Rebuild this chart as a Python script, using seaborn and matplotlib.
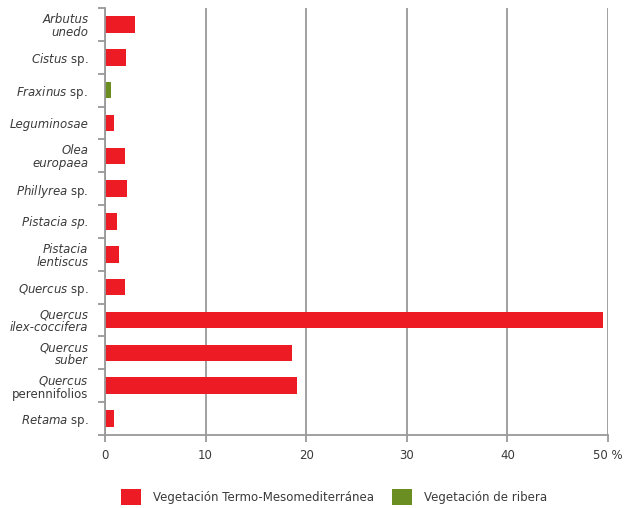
import pandas as pd
import numpy as np
import matplotlib
matplotlib.use('Agg')
import matplotlib.pyplot as plt
import seaborn as sns

# Datos
especies = ['Arbutus unedo', 'Cistus sp.', 'Fraxinus sp.', 'Leguminosae', 'Olea europaea',
            'Phillyrea sp.', 'Pistacia sp.', 'Pistacia lentiscus', 'Quercus sp.',
            'Quercus ilex-coccifera', 'Quercus suber', 'Quercus perennifolios', 'Retama sp.']
valores = [3.0, 2.1, 0.6, 0.9, 2.0, 2.2, 1.2, 1.4, 2.0, 49.5, 18.6, 19.1, 0.9]
vegetacion = ['Vegetación Termo-Mesomediterránea'] * 2 + ['Vegetación de ribera'] + \
             ['Vegetación Termo-Mesomediterránea'] * 10
etiquetas = [r'Arbutus' + '\n' + 'unedo',
             r'$\it{Cistus}$ sp.',
             r'$\it{Fraxinus}$ sp.',
             'Leguminosae',
             'Olea\neuropaea',
             r'$\it{Phillyrea}$ sp.',
             'Pistacia sp.',
             'Pistacia\nlentiscus',
             r'$\it{Quercus}$ sp.',
             'Quercus\nilex-coccifera',
             'Quercus\nsuber',
             r'$\it{Quercus}$' + '\n' + 'perennifolios',
             r'$\it{Retama}$ sp.']
todo_cursiva = [True, False, False, True, True, False, True, True, False, True, True, False, False]
xticks = [0, 10, 20, 30, 40, 50]
xtick_labels = ['0', '10', '20', '30', '40', '50 %']

colores = {'Vegetación Termo-Mesomediterránea': '#ED1C24', 'Vegetación de ribera': '#6B8E23'}

df = pd.DataFrame({'Especie': especies, 'Valor': valores, 'Vegetacion': vegetacion})

plt.rcParams['mathtext.fontset'] = 'custom'
plt.rcParams['mathtext.it'] = 'DejaVu Sans:italic'
plt.rcParams['mathtext.rm'] = 'DejaVu Sans'

fig = plt.figure(figsize=(6.36, 5.08), dpi=100)
ax = fig.add_axes([0.165, 0.144, 0.791, 0.840])

sns.barplot(data=df, y='Especie', x='Valor', hue='Vegetacion', palette=colores,
            dodge=False, width=0.5, orient='h', ax=ax, saturation=1)

ax.set_xlim(0, 50)
ax.set_ylim(len(especies) - 0.5, -0.5)
ax.set_xticks(xticks)
ax.set_xticklabels(xtick_labels)
ax.set_xlabel('')
ax.set_ylabel('')

gris = '#999999'
texto = '#3a3a3a'
ax.set_facecolor('white')
for s in ['top', 'right']:
    ax.spines[s].set_visible(False)
for s in ['left', 'bottom']:
    ax.spines[s].set_color(gris)
    ax.spines[s].set_linewidth(1.3)
ax.set_axisbelow(True)
ax.grid(axis='x', color=gris, linewidth=1.3)
ax.grid(axis='y', visible=False)
ax.tick_params(axis='x', colors=gris, length=5, width=1.3, labelcolor=texto, labelsize=8.5, pad=5)

# etiquetas del eje y
ax.set_yticks(range(len(especies)))
ax.set_yticklabels(etiquetas)
ax.tick_params(axis='y', which='major', length=0, pad=12, labelsize=8.5, labelcolor=texto)
for lab, it in zip(ax.get_yticklabels(), todo_cursiva):
    lab.set_multialignment('right')
    lab.set_linespacing(1.0)
    if it:
        lab.set_fontstyle('italic')
ax.set_yticks(np.arange(-0.5, len(especies), 1.0), minor=True)
ax.tick_params(axis='y', which='minor', length=5, width=1.3, color=gris)

sns.move_legend(ax, 'center', bbox_to_anchor=(0.525, 0.022), bbox_transform=fig.transFigure,
                ncol=2, frameon=False, title=None, fontsize=8.5, handlelength=1.75,
                handleheight=1.75, columnspacing=1.5, handletextpad=1.0)
for t in ax.get_legend().get_texts():
    t.set_color(texto)

plt.savefig('out.png', dpi=100)
